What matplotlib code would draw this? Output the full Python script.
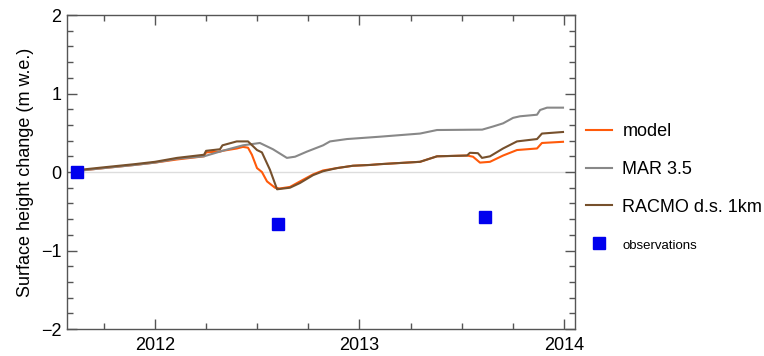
import matplotlib
matplotlib.use("Agg")
import matplotlib.pyplot as plt
from matplotlib.ticker import MultipleLocator, FuncFormatter

plt.rcParams['font.family'] = ['Liberation Sans', 'DejaVu Sans']

# surface height change series (decimal year, m w.e.)
model_t = [2011.62, 2011.64, 2011.75, 2011.90, 2012.00, 2012.108, 2012.24, 2012.25, 2012.318,
           2012.33, 2012.401, 2012.43, 2012.455, 2012.474, 2012.499, 2012.523, 2012.548,
           2012.587, 2012.61, 2012.66, 2012.709, 2012.773, 2012.822, 2012.89, 2012.968,
           2013.051, 2013.10, 2013.296, 2013.379, 2013.526, 2013.555, 2013.589, 2013.638,
           2013.702, 2013.770, 2013.868, 2013.892, 2013.995]
model_h = [0.0, 0.02, 0.05, 0.09, 0.12, 0.16, 0.20, 0.25, 0.26,
           0.27, 0.30, 0.32, 0.31, 0.22, 0.05, 0.0, -0.12,
           -0.20, -0.21, -0.19, -0.12, -0.03, 0.02, 0.05, 0.08,
           0.09, 0.10, 0.13, 0.20, 0.21, 0.195, 0.12, 0.13,
           0.21, 0.28, 0.30, 0.37, 0.385]

mar_t = [2011.62, 2011.64, 2011.75, 2011.90, 2012.00, 2012.108, 2012.24, 2012.33, 2012.43,
         2012.513, 2012.577, 2012.645, 2012.685, 2012.743, 2012.822, 2012.856, 2012.939,
         2013.10, 2013.296, 2013.379, 2013.60, 2013.653, 2013.702, 2013.751, 2013.785,
         2013.868, 2013.883, 2013.917, 2013.995]
mar_h = [0.0, 0.02, 0.05, 0.09, 0.12, 0.17, 0.20, 0.27, 0.34,
         0.37, 0.29, 0.18, 0.195, 0.26, 0.34, 0.39, 0.42,
         0.45, 0.49, 0.535, 0.54, 0.58, 0.62, 0.69, 0.71,
         0.73, 0.79, 0.82, 0.82]

racmo_t = [2011.62, 2011.64, 2011.75, 2011.90, 2012.00, 2012.108, 2012.24, 2012.25, 2012.318,
           2012.33, 2012.40, 2012.455, 2012.499, 2012.523, 2012.562, 2012.597, 2012.66,
           2012.709, 2012.773, 2012.822, 2012.89, 2012.968, 2013.051, 2013.10, 2013.296,
           2013.379, 2013.526, 2013.54, 2013.579, 2013.599, 2013.638, 2013.702, 2013.770,
           2013.868, 2013.892, 2013.995]
racmo_h = [0.0, 0.03, 0.06, 0.10, 0.13, 0.18, 0.22, 0.27, 0.29,
           0.34, 0.39, 0.39, 0.28, 0.25, 0.03, -0.22, -0.20,
           -0.14, -0.04, 0.01, 0.05, 0.08, 0.09, 0.10, 0.13,
           0.20, 0.21, 0.245, 0.24, 0.18, 0.20, 0.30, 0.39,
           0.42, 0.49, 0.51]

obs_t = [2011.62, 2012.60, 2013.615]
obs_h = [0.0, -0.66, -0.57]

fig = plt.figure(figsize=(7.64, 3.56), dpi=100)
ax = fig.add_axes([0.0877, 0.0758, 0.665, 0.882])

ax.axhline(0, color='#dddddd', lw=1.0, zorder=0)
ax.plot(model_t, model_h, color='#ff5a0a', lw=1.5, label='model')
ax.plot(mar_t, mar_h, color='#888888', lw=1.5, label='MAR 3.5')
ax.plot(racmo_t, racmo_h, color='#76502c', lw=1.5, label='RACMO d.s. 1km')
ax.plot(obs_t, obs_h, ls='none', marker='s', ms=8, color='#0000ee', label='observations',
        clip_on=False, zorder=5)

ax.set_xlim(2011.57, 2014.054)
ax.set_ylim(-2, 2)
ax.xaxis.set_major_locator(MultipleLocator(1))
ax.xaxis.set_minor_locator(MultipleLocator(0.25))
ax.yaxis.set_major_locator(MultipleLocator(1))
ax.yaxis.set_minor_locator(MultipleLocator(0.2))
ax.xaxis.set_major_formatter(FuncFormatter(lambda v, p: f'{int(round(v))}'))
ax.yaxis.set_major_formatter(FuncFormatter(lambda v, p: f'{int(round(v))}'.replace('-', '\u2212')))

ax.tick_params(which='both', direction='in', top=True, right=True, color='#555555',
               labelsize=13, width=1.0)
ax.tick_params(which='major', length=7)
ax.tick_params(which='minor', length=4)
ax.tick_params(axis='y', pad=4)
ax.tick_params(axis='x', pad=6)
for s in ax.spines.values():
    s.set_color('#555555')
    s.set_linewidth(1.0)

ax.set_ylabel('Surface height change (m w.e.)', fontsize=13, labelpad=5)

leg = ax.legend(loc='center left', bbox_to_anchor=(0.99, 0.45), frameon=False,
                fontsize=13, labelspacing=1.15, handlelength=1.4, handletextpad=0.6)
leg.get_texts()[3].set_fontsize(9.5)

fig.savefig('out.png', dpi=100)
